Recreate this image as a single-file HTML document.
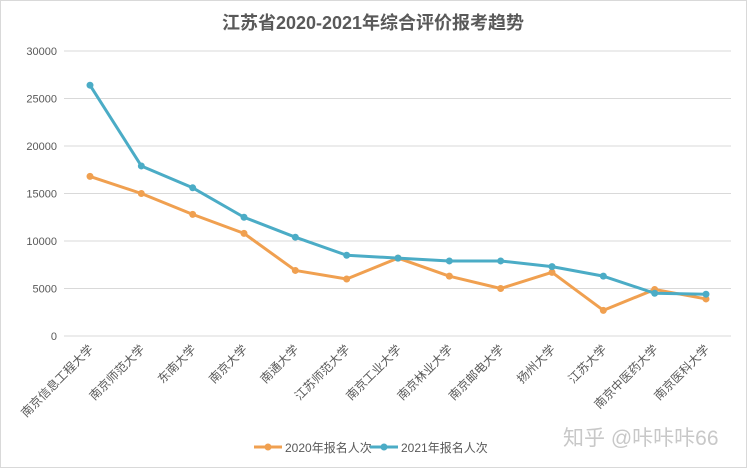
<!DOCTYPE html>
<html><head><meta charset="utf-8"><style>
body{margin:0;background:#fff;}
svg{display:block;font-family:"Liberation Sans","Noto Sans CJK SC",sans-serif;}
</style></head><body>
<svg id="chart" width="747" height="468">
<rect x="0.5" y="0.5" width="746" height="467" fill="#fff" stroke="#d9d9d9"/>
<text x="373" y="29" text-anchor="middle" font-size="18" font-weight="bold" fill="#595959">江苏省2020-2021年综合评价报考趋势</text>
<g id="grid"></g><g id="xlabels"></g><g id="series"></g>
<g>
<g>
<line x1="254" y1="447" x2="282" y2="447" stroke="#F0A050" stroke-width="3"/><circle cx="268" cy="447" r="3.5" fill="#F0A050"/>
<text x="285" y="452" font-size="12" fill="#595959">2020年报名人次</text></g>
<g>
<line x1="370" y1="447" x2="398" y2="447" stroke="#4BACC6" stroke-width="3"/><circle cx="384" cy="447" r="3.5" fill="#4BACC6"/>
<text x="401" y="452" font-size="12" fill="#595959">2021年报名人次</text></g>
</g>
<text x="563" y="445" font-size="21" fill="#c8c8c8">知乎 @咔咔咔66</text>
</svg>
<script>
const categories=["南京信息工程大学","南京师范大学","东南大学","南京大学","南通大学","江苏师范大学","南京工业大学","南京林业大学","南京邮电大学","扬州大学","江苏大学","南京中医药大学","南京医科大学"];
const values2020=[16800,15000,12800,10800,6900,6000,8200,6300,5000,6700,2700,4900,3900];
const values2021=[26400,17900,15600,12500,10400,8500,8200,7900,7900,7300,6300,4500,4400];
const yTicks=[0,5000,10000,15000,20000,25000,30000];
const NS="http://www.w3.org/2000/svg";
const x0=90,x1=706,yBase=336,yTop=51,yMax=30000;
const xs=i=>x0+(x1-x0)*i/(categories.length-1);
const ys=v=>yBase-(yBase-yTop)*v/yMax;
function mk(tag,attrs,parent){const e=document.createElementNS(NS,tag);for(const k in attrs)e.setAttribute(k,attrs[k]);parent.appendChild(e);return e;}
const grid=document.getElementById('grid');
yTicks.forEach(t=>{
 const l=mk('line',{x1:64,x2:731,y1:ys(t),y2:ys(t),stroke:'#d9d9d9','stroke-width':1},grid);
 
 
 const tx=mk('text',{x:57,y:ys(t)+4,'text-anchor':'end','font-size':11,fill:'#595959'},grid);
 tx.textContent=t;
 
 
});
const xl=document.getElementById('xlabels');
categories.forEach((c,i)=>{
 const t=mk('text',{x:xs(i)+4,y:350,'text-anchor':'end','font-size':12,fill:'#595959',transform:`rotate(-45 ${xs(i)+4} 350)`},xl);
 t.textContent=c;
 
 
});
const sg=document.getElementById('series');
[[values2020,'#F0A050','series-2020'],[values2021,'#4BACC6','series-2021']].forEach(([vals,col,name])=>{
 const p=mk('polyline',{points:vals.map((v,i)=>xs(i)+','+ys(v)).join(' '),fill:'none',stroke:col,'stroke-width':3,'stroke-linejoin':'round'},sg);
 
 
 vals.forEach((v,i)=>{
  const c=mk('circle',{cx:xs(i),cy:ys(v),r:3.5,fill:col},sg);
  
  
 });
});
</script>
</body></html>
